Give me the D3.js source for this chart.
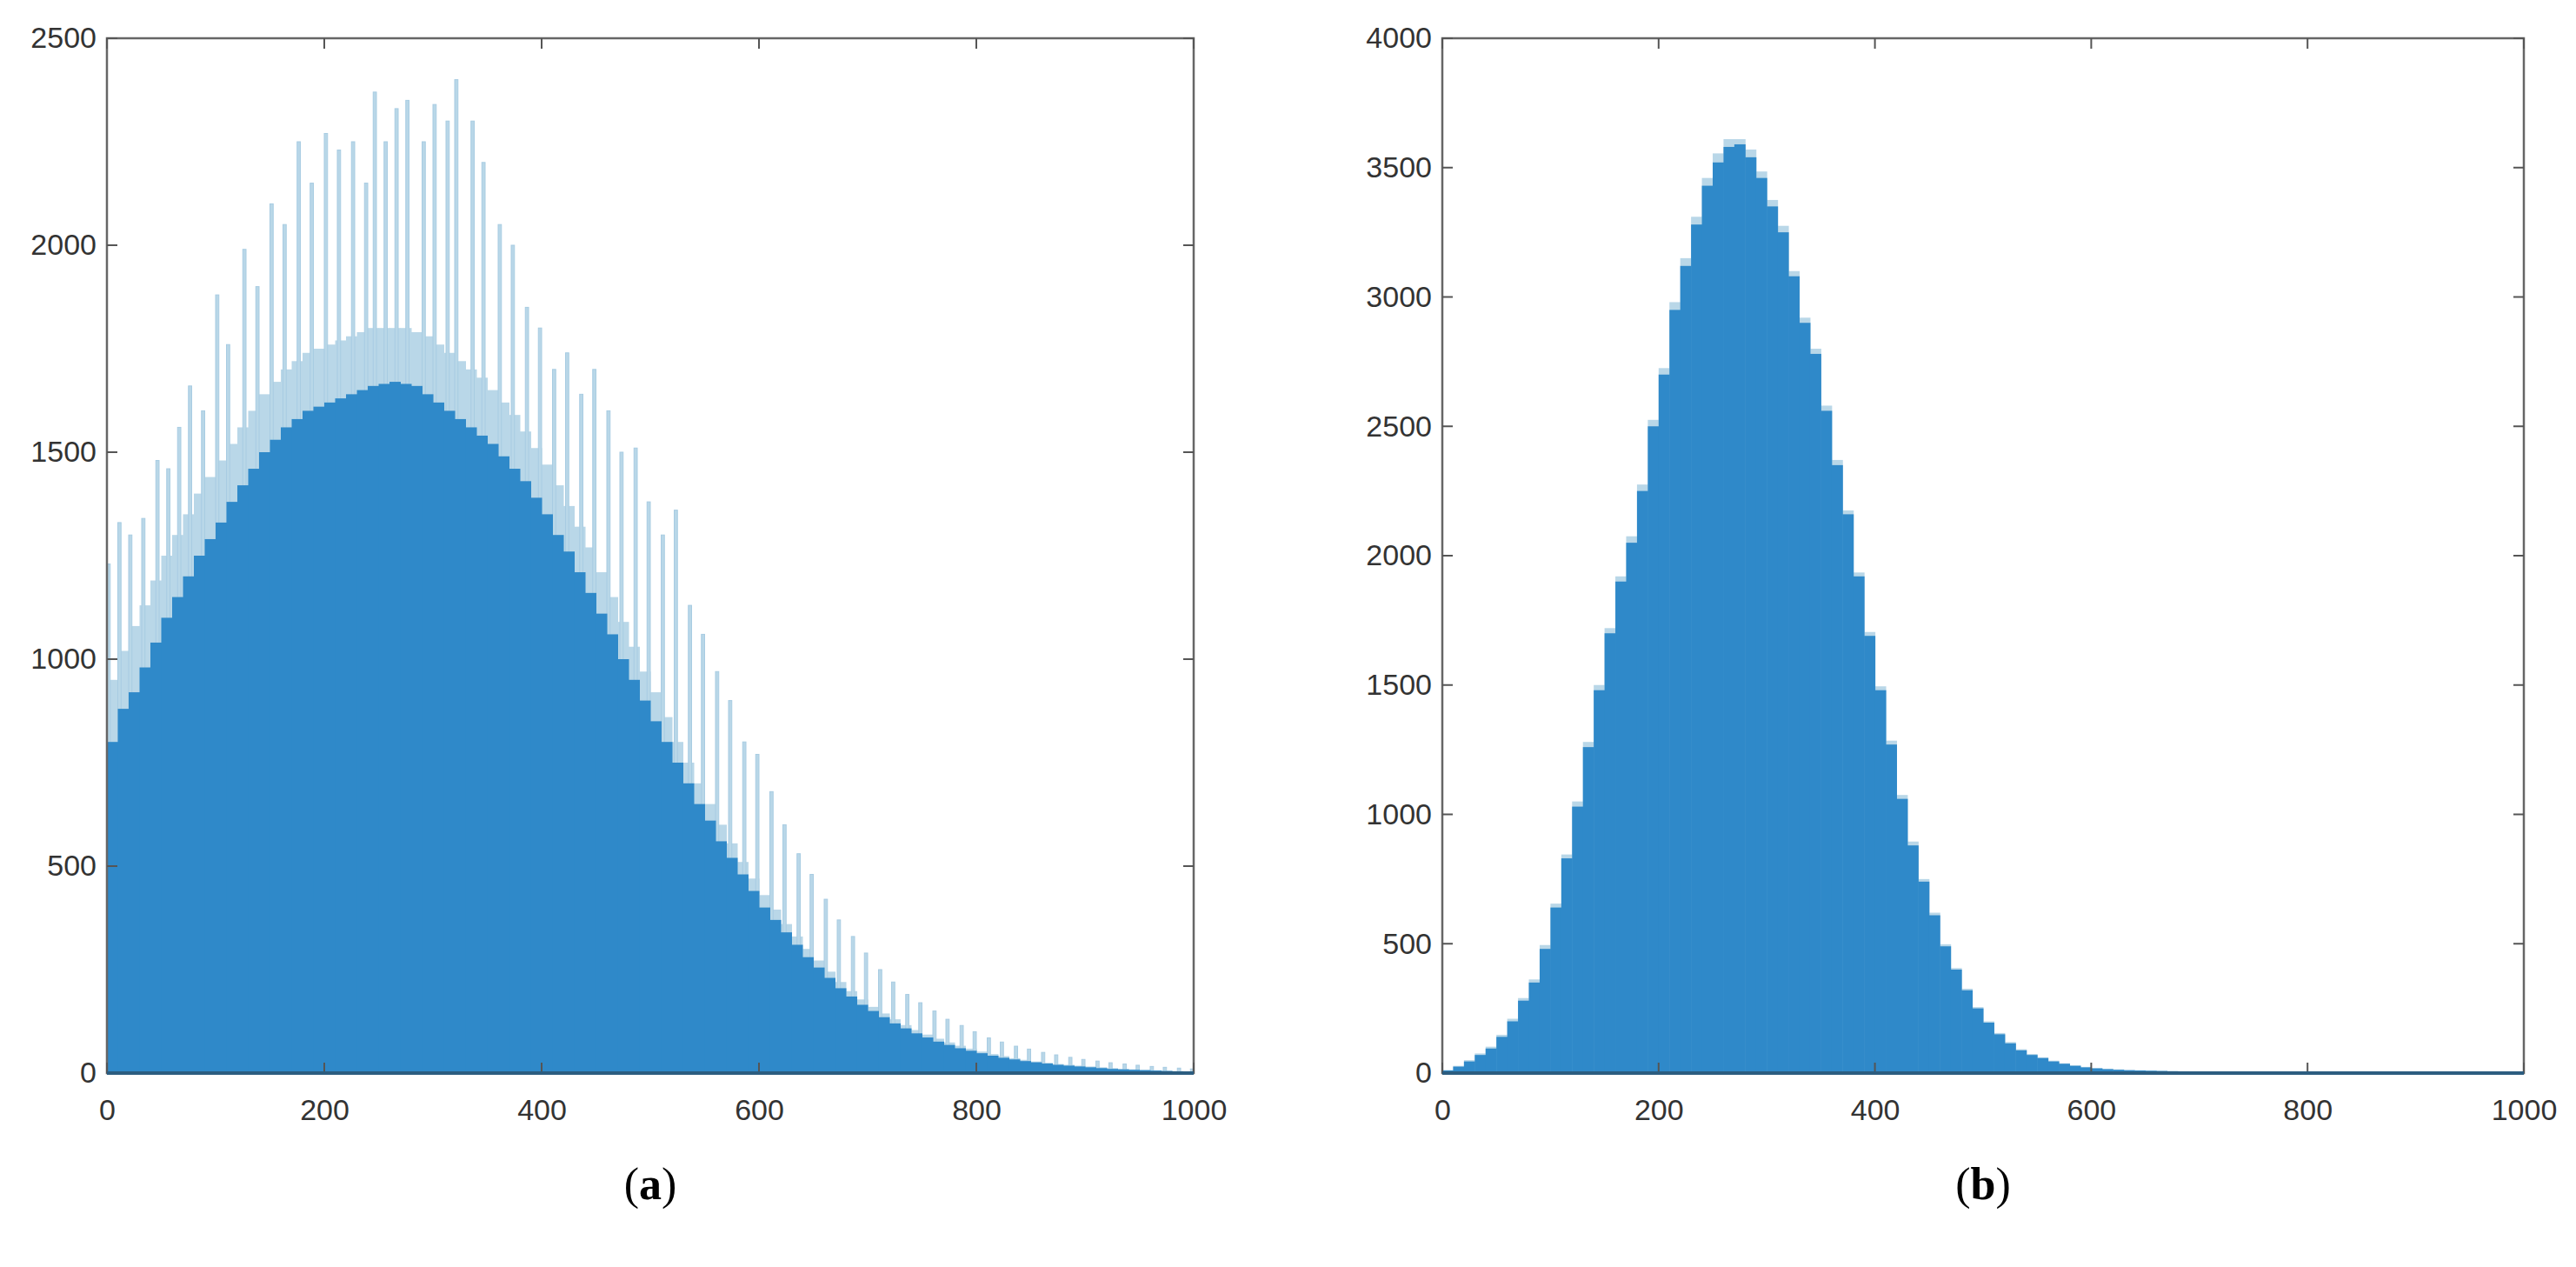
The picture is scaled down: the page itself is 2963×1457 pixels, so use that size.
<!DOCTYPE html>
<html>
<head>
<meta charset="utf-8">
<script src="https://cdn.jsdelivr.net/npm/d3@7"></script>
<style>
  body { margin: 0; background: #fff; }
  .tick text { font-family: "Liberation Sans", Arial, sans-serif; font-size: 34px; fill: #333; }
  .cap { font-family: "Liberation Serif", "Times New Roman", serif; font-size: 52px; fill: #000; }
</style>
</head>
<body>
<svg id="chart" width="2963" height="1457"></svg>
<script>
// bin starts for the dark histograms (10-unit bins)
const binsA = d3.range(0, 1000, 10);

// panel (a): smooth lower part
const darkA = [800, 880, 920, 980, 1040, 1100, 1150, 1200, 1250, 1290,
  1330, 1380, 1420, 1460, 1500, 1530, 1560, 1580, 1600, 1610,
  1620, 1630, 1640, 1650, 1660, 1665, 1670, 1665, 1660, 1640,
  1620, 1600, 1580, 1560, 1540, 1520, 1490, 1460, 1430, 1390,
  1350, 1300, 1260, 1210, 1160, 1110, 1060, 1000, 950, 900,
  850, 800, 750, 700, 650, 610, 560, 520, 480, 440,
  400, 370, 340, 310, 280, 255, 230, 205, 185, 165,
  150, 135, 120, 108, 96, 86, 76, 68, 60, 54,
  48, 42, 37, 33, 29, 26, 23, 20, 18, 16,
  14, 12, 10, 9, 8, 7, 6, 5, 4, 3];

// panel (a): light layer between the spikes
const valleyA = [950, 1020, 1080, 1130, 1190, 1250, 1300, 1350, 1400, 1440,
  1480, 1520, 1560, 1600, 1640, 1670, 1700, 1720, 1740, 1750,
  1760, 1770, 1780, 1790, 1800, 1800, 1800, 1800, 1790, 1780,
  1760, 1740, 1720, 1700, 1680, 1650, 1620, 1590, 1550, 1510,
  1470, 1420, 1370, 1320, 1270, 1210, 1150, 1090, 1030, 970,
  920, 860, 800, 750, 700, 650, 600, 555, 510, 470,
  430, 395, 360, 330, 300, 272, 245, 220, 198, 178,
  160, 144, 130, 116, 104, 93, 83, 74, 66, 59,
  52, 46, 41, 36, 32, 28, 25, 22, 20, 18,
  16, 14, 12, 10, 9, 8, 7, 6, 5, 4];

// panel (a): spike positions and peak heights
const spikeX = [0, 10, 20, 32, 45, 55, 65, 75, 87, 100, 110, 125, 137, 150, 162, 175, 187,
  200, 212, 225, 237, 245, 255, 265, 275, 290, 300, 312, 320, 335, 345, 360, 372, 385, 397,
  410, 422, 435, 447, 460, 472, 485, 497, 510, 522, 535, 547, 560, 572, 585, 597, 610, 622,
  635, 647, 660, 672, 685, 697, 710, 722, 735, 747, 760, 772, 785, 797, 810, 822, 835, 847,
  860, 872, 885, 897, 910, 922, 935, 947, 960, 972, 985, 997];
const spikeA = [1230, 1330, 1300, 1340, 1480, 1460, 1560, 1660, 1600, 1880, 1760, 1990, 1900,
  2100, 2050, 2250, 2150, 2270, 2230, 2250, 2150, 2370, 2250, 2330, 2350, 2250, 2340, 2300,
  2400, 2300, 2200, 2050, 2000, 1850, 1800, 1700, 1740, 1640, 1700, 1600, 1500, 1510, 1380,
  1300, 1360, 1130, 1060, 970, 900, 800, 770, 680, 600, 530, 480, 420, 370, 330, 290, 250,
  220, 190, 170, 150, 130, 115, 100, 85, 75, 65, 58, 50, 44, 38, 33, 29, 25, 22, 19, 16,
  14, 12, 10];

// panel (b)
const darkB = [10, 25, 45, 70, 95, 140, 200, 280, 350, 480,
  640, 830, 1030, 1260, 1480, 1700, 1900, 2050, 2250, 2500,
  2700, 2950, 3120, 3280, 3430, 3520, 3580, 3590, 3540, 3460,
  3350, 3250, 3080, 2900, 2780, 2560, 2350, 2160, 1920, 1690,
  1480, 1270, 1060, 880, 740, 610, 490, 400, 320, 250,
  195, 150, 115, 88, 70, 58, 45, 36, 28, 22,
  18, 15, 13, 11, 10, 9, 8, 7, 6, 5,
  5, 4, 4, 3, 3, 3, 3, 2, 2, 2,
  2, 2, 2, 2, 2, 1, 1, 1, 1, 1,
  1, 1, 1, 1, 1, 1, 1, 1, 1, 1];
// panel (b) light fringe on top near the peak
const fringeB = [12, 28, 50, 76, 102, 148, 210, 290, 362, 495,
  655, 845, 1050, 1280, 1500, 1720, 1920, 2075, 2275, 2525,
  2725, 2980, 3150, 3310, 3460, 3555, 3610, 3610, 3570, 3485,
  3375, 3275, 3100, 2920, 2800, 2580, 2370, 2175, 1935, 1705,
  1495, 1285, 1075, 895, 750, 620, 498, 406, 326, 255,
  200, 155, 120, 92, 74, 61, 48, 38, 30, 24,
  20, 17, 14, 12, 11, 10, 9, 8, 7, 6,
  6, 5, 5, 4, 4, 4, 3, 3, 3, 3,
  3, 3, 3, 2, 2, 2, 2, 2, 2, 2,
  2, 2, 2, 2, 2, 2, 2, 2, 2, 2];

const xTicks = [0, 200, 400, 600, 800, 1000];
const yTicksA = [0, 500, 1000, 1500, 2000, 2500];
const yTicksB = [0, 500, 1000, 1500, 2000, 2500, 3000, 3500, 4000];

const DARK = '#2f89c9', LIGHT = '#b9d7e8';
const svg = d3.select('#chart');

function panel(left, right, top, bottom, yMax, yTicks, caption) {
  const x = d3.scaleLinear().domain([0, 1000]).range([left, right]);
  const y = d3.scaleLinear().domain([0, yMax]).range([bottom, top]);
  const g = svg.append('g');

  const tick = 12;
  g.append('g').attr('transform', `translate(0,${bottom})`)
    .call(d3.axisBottom(x).tickValues(xTicks).tickFormat(d3.format('d')).tickSize(0).tickPadding(30));
  g.append('g').attr('transform', `translate(${left},0)`)
    .call(d3.axisLeft(y).tickValues(yTicks).tickFormat(d3.format('d')).tickSize(0).tickPadding(12));
  g.selectAll('.domain').remove();

  g.append('text').attr('class', 'cap')
    .attr('x', (left + right) / 2).attr('y', bottom + 145)
    .attr('text-anchor', 'middle')
    .html(`(<tspan font-weight="bold">${caption}</tspan>)`);

  const frame = (gg) => {
    gg.append('rect').attr('x', left).attr('y', top)
      .attr('width', right - left).attr('height', bottom - top)
      .attr('fill', 'none').attr('stroke', '#666').attr('stroke-width', 2.5);
    xTicks.forEach((t) => {
      gg.append('line').attr('x1', x(t)).attr('x2', x(t)).attr('y1', bottom).attr('y2', bottom - tick).attr('stroke', '#555').attr('stroke-width', 2);
      gg.append('line').attr('x1', x(t)).attr('x2', x(t)).attr('y1', top).attr('y2', top + tick).attr('stroke', '#555').attr('stroke-width', 2);
    });
    yTicks.forEach((t) => {
      gg.append('line').attr('x1', left).attr('x2', left + tick).attr('y1', y(t)).attr('y2', y(t)).attr('stroke', '#555').attr('stroke-width', 2);
      gg.append('line').attr('x1', right).attr('x2', right - tick).attr('y1', y(t)).attr('y2', y(t)).attr('stroke', '#555').attr('stroke-width', 2);
    });
    gg.append('line').attr('x1', left).attr('x2', right).attr('y1', bottom).attr('y2', bottom)
      .attr('stroke', '#2c5d80').attr('stroke-width', 4);
  };
  return { g, x, y, frame };
}

// ---- panel (a)
const pa = panel(123, 1373, 44, 1234, 2500, yTicksA, 'a');
pa.g.append('g').selectAll('rect').data(binsA).join('rect')
  .attr('x', (d) => pa.x(d)).attr('width', pa.x(10) - pa.x(0) + 0.5)
  .attr('y', (d, i) => pa.y(valleyA[i])).attr('height', (d, i) => pa.y(0) - pa.y(valleyA[i]))
  .attr('fill', LIGHT);
pa.g.append('g').selectAll('rect').data(spikeX).join('rect')
  .attr('x', (d) => pa.x(d)).attr('width', pa.x(3) - pa.x(0))
  .attr('y', (d, i) => pa.y(spikeA[i])).attr('height', (d, i) => pa.y(0) - pa.y(spikeA[i]))
  .attr('fill', LIGHT).attr('stroke', '#a8cce2').attr('stroke-width', 1);
pa.g.append('g').selectAll('rect').data(binsA).join('rect')
  .attr('x', (d) => pa.x(d)).attr('width', pa.x(10) - pa.x(0) + 0.5)
  .attr('y', (d, i) => pa.y(darkA[i])).attr('height', (d, i) => pa.y(0) - pa.y(darkA[i]))
  .attr('fill', DARK);
pa.frame(pa.g.append('g'));

// ---- panel (b)
const pb = panel(1659, 2903, 44, 1234, 4000, yTicksB, 'b');
pb.g.append('g').selectAll('rect').data(binsA).join('rect')
  .attr('x', (d) => pb.x(d)).attr('width', pb.x(10) - pb.x(0) + 0.5)
  .attr('y', (d, i) => pb.y(fringeB[i])).attr('height', (d, i) => pb.y(0) - pb.y(fringeB[i]))
  .attr('fill', LIGHT);
pb.g.append('g').selectAll('rect').data(binsA).join('rect')
  .attr('x', (d) => pb.x(d)).attr('width', pb.x(10) - pb.x(0) + 0.5)
  .attr('y', (d, i) => pb.y(darkB[i])).attr('height', (d, i) => pb.y(0) - pb.y(darkB[i]))
  .attr('fill', DARK);
pb.frame(pb.g.append('g'));
</script>
</body>
</html>
